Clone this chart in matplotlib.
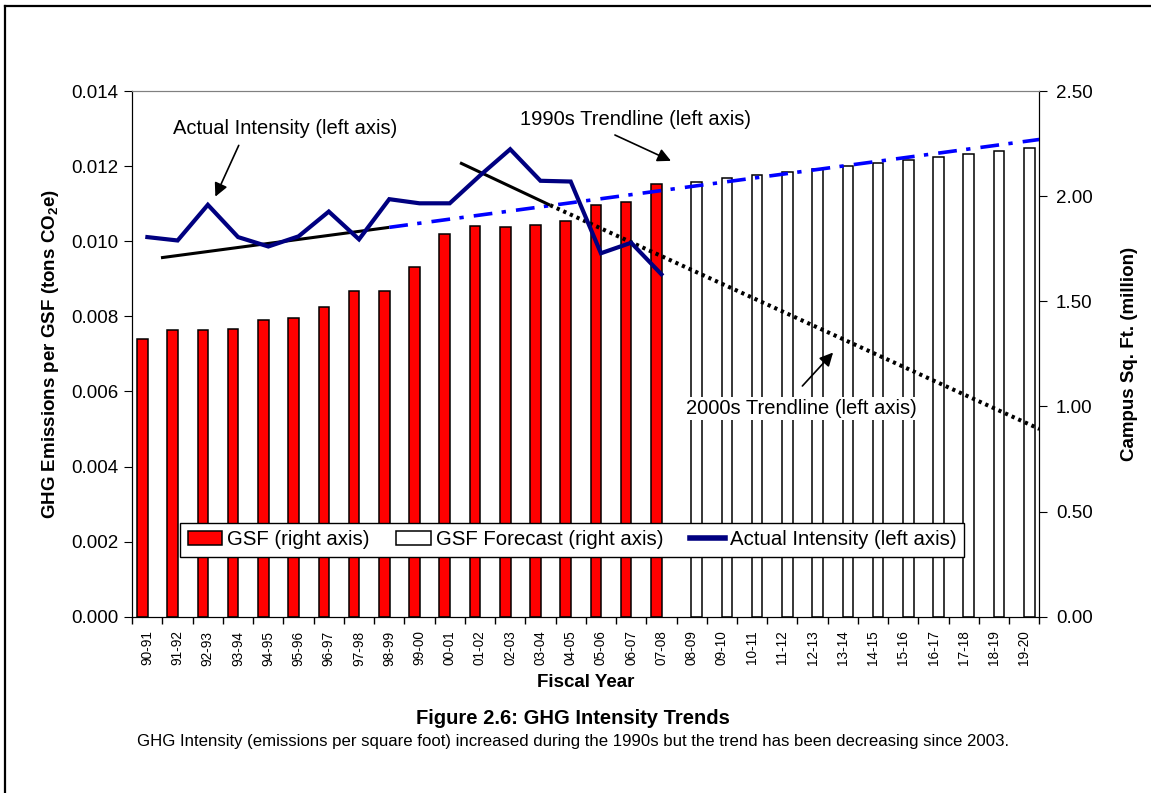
import matplotlib.pyplot as plt
import numpy as np
from matplotlib.lines import Line2D
from matplotlib.patches import Patch

plt.rcParams["font.family"] = ["Liberation Sans", "DejaVu Sans"]
plt.rcParams["mathtext.fontset"] = "custom"
plt.rcParams["mathtext.rm"] = "Liberation Sans"
plt.rcParams["mathtext.bf"] = "Liberation Sans:bold"

# --- data ---
YEARS = ["90-91", "91-92", "92-93", "93-94", "94-95", "95-96", "96-97", "97-98",
         "98-99", "99-00", "00-01", "01-02", "02-03", "03-04", "04-05", "05-06",
         "06-07", "07-08", "08-09", "09-10", "10-11", "11-12", "12-13", "13-14",
         "14-15", "15-16", "16-17", "17-18", "18-19", "19-20"]

# campus gross square feet, million (right axis)
GSF_ACTUAL = [1.319, 1.363, 1.363, 1.368, 1.411, 1.422, 1.471, 1.550, 1.550,
              1.663, 1.820, 1.858, 1.854, 1.861, 1.880, 1.959, 1.970, 2.056]
GSF_FORECAST = [2.068, 2.085, 2.099, 2.115, 2.129, 2.143, 2.159, 2.173,
                2.187, 2.202, 2.216, 2.229]

# GHG intensity, tons CO2e per GSF (left axis)
INTENSITY = [0.01011, 0.01002, 0.01097, 0.01011, 0.00986, 0.01013, 0.01079,
             0.01005, 0.01112, 0.01101, 0.01101, 0.01175, 0.01245, 0.01161,
             0.01159, 0.00968, 0.00996, 0.00912]

# trendlines: (category position, value) at start, end of solid part, end of projection
TREND_90S_X = [0.45, 8.0, 29.5]
TREND_90S_Y = [0.00956, 0.01037, 0.01271]
TREND_00S_X = [10.34, 13.32, 29.5]
TREND_00S_Y = [0.01209, 0.01096, 0.00500]

n_act = len(GSF_ACTUAL)
x_all = np.arange(len(YEARS))
x_act = x_all[:n_act]
x_fc = x_all[n_act:]

fig = plt.figure(figsize=(11.51, 7.93), dpi=100)
ax = fig.add_axes([0.1149, 0.2223, 0.7881, 0.6629])
ax2 = ax.twinx()
ax.set_zorder(ax2.get_zorder() + 1)
ax.patch.set_visible(False)

# bars on the right axis
bw = 0.35
ax2.bar(x_act - 0.165, GSF_ACTUAL, bw, color="#ff0000", edgecolor="black", linewidth=1.1)
ax2.bar(x_fc + 0.165, GSF_FORECAST, bw, color="white", edgecolor="black", linewidth=1.1)
ax2.set_ylim(0, 2.5)
ax2.set_yticks(np.arange(0, 2.51, 0.5))
ax2.set_yticklabels([f"{v:.2f}" for v in np.arange(0, 2.51, 0.5)])
ax2.set_ylabel("Campus Sq. Ft. (million)", fontsize=13.5, fontweight="bold", labelpad=20)

# lines on the left axis
ax.plot(TREND_90S_X[:2], TREND_90S_Y[:2], color="black", linewidth=2.2, solid_capstyle="butt")
ax.plot(TREND_90S_X[1:], TREND_90S_Y[1:], color="#0000ff", linewidth=2.6,
        dashes=(5.2, 2.6, 1.2, 2.8))
ax.plot(TREND_00S_X[:2], TREND_00S_Y[:2], color="black", linewidth=2.2, solid_capstyle="butt")
ax.plot(TREND_00S_X[1:], TREND_00S_Y[1:], color="black", linewidth=2.9,
        dashes=(0.8, 1.0))
ax.plot(x_act, INTENSITY, color="#000080", linewidth=3.0, solid_joinstyle="miter")

ax.set_ylim(0, 0.014)
ax.set_yticks(np.arange(0, 0.0141, 0.002))
ax.set_yticklabels([f"{v:.3f}" for v in np.arange(0, 0.0141, 0.002)])
ax.set_xlim(-0.5, len(YEARS) - 0.5)
ax.set_ylabel("GHG Emissions per GSF (tons CO$_\\mathbf{2}$e)", fontsize=13.5,
              fontweight="bold", labelpad=7)
ax.set_xlabel("Fiscal Year", fontsize=13.5, fontweight="bold", labelpad=6)

# category boundaries get the tick marks, centers get the labels
ax.set_xticks(np.arange(-0.5, len(YEARS)), labels=[""] * (len(YEARS) + 1))
ax.set_xticks(x_all, labels=YEARS, minor=True)
ax.tick_params(axis="x", which="minor", length=0, rotation=90, labelsize=9.8, pad=10)
ax.tick_params(axis="x", which="major", length=5, direction="out", width=1)
ax.tick_params(axis="y", labelsize=13.5, length=6, direction="out", pad=4)
ax2.tick_params(axis="y", labelsize=13.5, length=6, direction="out", pad=6)

for a in (ax, ax2):
    a.spines["top"].set_color("#808080")
    a.spines["left"].set_color("black")
    a.spines["right"].set_color("black")
    a.spines["bottom"].set_color("black")

# callouts
arrow = dict(arrowstyle="-|>", color="black", lw=1.2, mutation_scale=20)
ax.text(4.55, 0.01299, "Actual Intensity (left axis)", fontsize=14.5, ha="center", va="center")
ax.annotate("", xy=(2.21, 0.01112), xytext=(3.06, 0.01262), arrowprops=arrow)
ax.text(16.16, 0.01325, "1990s Trendline (left axis)", fontsize=14.5, ha="center", va="center")
ax.annotate("", xy=(17.40, 0.01211), xytext=(15.38, 0.01286), arrowprops=arrow)
ax.text(21.62, 0.00554, "2000s Trendline (left axis)", fontsize=14.5, ha="center", va="center",
        bbox=dict(facecolor="white", edgecolor="none", pad=1.5))
ax.annotate("", xy=(22.74, 0.00709), xytext=(21.60, 0.00609), arrowprops=arrow)

handles = [
    Patch(facecolor="#ff0000", edgecolor="black", linewidth=1.1, label="GSF (right axis)"),
    Patch(facecolor="white", edgecolor="black", linewidth=1.1, label="GSF Forecast (right axis)"),
    Line2D([], [], color="#000080", linewidth=4, label="Actual Intensity (left axis)"),
]
leg = ax.legend(handles=handles, loc="center", bbox_to_anchor=(0.485, 0.146), ncol=3,
                fontsize=14.7, frameon=True, fancybox=False, framealpha=1,
                edgecolor="black", handlelength=1.7, handleheight=0.65,
                handletextpad=0.25, columnspacing=1.3, borderpad=0.35)
leg.get_frame().set_linewidth(1.0)
leg.set_zorder(10)

fig.text(0.4978, 1 - 718.3 / 793, "Figure 2.6: GHG Intensity Trends", fontsize=14.5,
         fontweight="bold", ha="center", va="center")
fig.text(0.4978, 1 - 741.7 / 793,
         "GHG Intensity (emissions per square foot) increased during the 1990s "
         "but the trend has been decreasing since 2003.",
         fontsize=12.1, ha="center", va="center")

# outer frame (only left and top edges are inside the image)
fig.add_artist(Line2D([5 / 1151, 5 / 1151], [0, 1 - 6 / 793], color="black", linewidth=1.6,
                      transform=fig.transFigure))
fig.add_artist(Line2D([5 / 1151, 1], [1 - 6 / 793, 1 - 6 / 793], color="black", linewidth=1.6,
                      transform=fig.transFigure))

fig.savefig("out.png", dpi=100)
